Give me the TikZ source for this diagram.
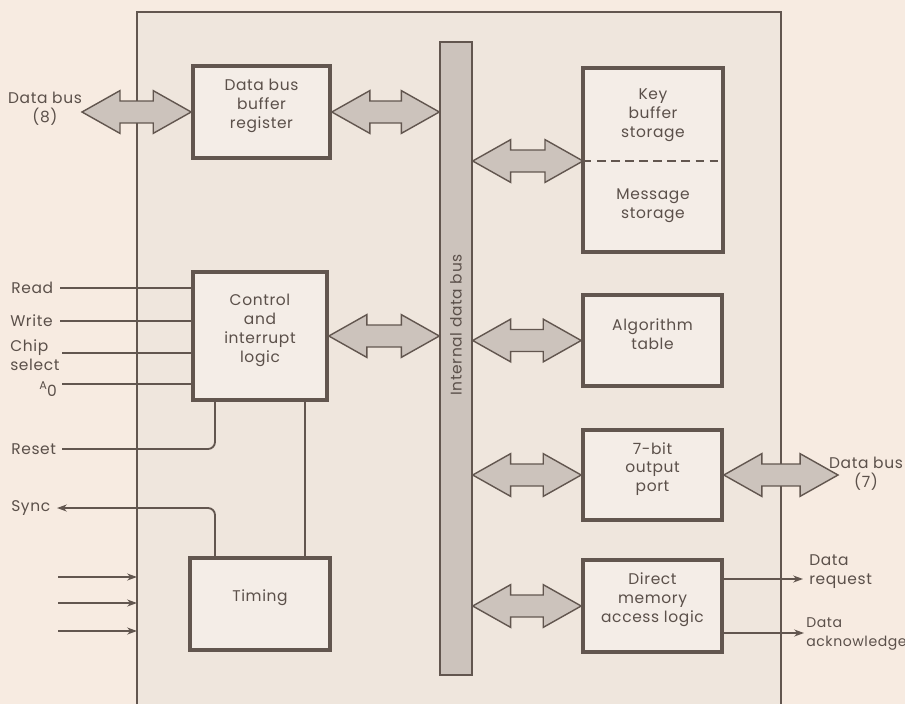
\documentclass[tikz,border=0pt]{standalone}
\usepackage{fontspec}
\setmainfont{Poppins}[LetterSpace=4]
\usetikzlibrary{arrows.meta,positioning,fit,calc}

\definecolor{paper}{HTML}{F7EBE1}
\definecolor{chipfill}{HTML}{EFE6DD}
\definecolor{ink}{HTML}{5B504A}
\definecolor{linecol}{HTML}{62564F}
\definecolor{busfill}{HTML}{CCC3BC}

\tikzset{
  blk/.style={draw=linecol,line width=2.6pt,fill=chipfill!70!white,inner sep=0pt,align=center},
  busbar/.style={draw=linecol,line width=1pt,fill=busfill,inner sep=0pt},
  lbl/.style={inner sep=0pt,align=left},
  sig/.style={draw=linecol,line width=1.3pt},
  sigarr/.style={sig,-{Stealth[length=7pt,width=5pt]}},
  busarrow/.style={draw=linecol,fill=busfill,line width=1pt,line join=miter,
    to path={let \p1=(\tikztostart), \p2=(\tikztotarget) in
      (\x1,\y1) -- (\x1+27pt,\y1+15.2pt) -- (\x1+27pt,\y1+7.8pt)
      -- (\x2-27pt,\y1+7.8pt) -- (\x2-27pt,\y1+15.2pt) -- (\x2,\y1)
      -- (\x2-27pt,\y1-15.2pt) -- (\x2-27pt,\y1-7.8pt)
      -- (\x1+27pt,\y1-7.8pt) -- (\x1+27pt,\y1-15.2pt) -- cycle}}
}

\begin{document}
\begin{tikzpicture}[x=0.025cm,y=-0.025cm,every node/.style={font=\fontsize{11}{13.5}\selectfont,text=ink}]
\fill[paper] (0,0) rectangle (905,704);
\useasboundingbox (0,0) rectangle (905,704);
% chip outline
\fill[chipfill] (137,12) rectangle (781,704);
\draw[linecol,line width=1.2pt] (137,704) |- (781,12) -- (781,704);
\coordinate (chipL) at (137,0);

% blocks
\node[busbar,fit={(440,42) (472,675)}] (bus) {};
\node[rotate=90] (buslbl) at (456,325) {Internal data bus};
\node[blk,fit={(193,66) (330,158)}] (reg) {Data bus\\buffer\\register};
\node[blk,fit={(583,68) (723,252)}] (kbs) {};
\node (kbstxt) at (653,115) [align=center] {Key\\buffer\\storage};
\node (msgtxt) at (653,206) [align=center] {Message\\storage};
\coordinate (kbsplit) at (583,161);
\draw[linecol,line width=1.3pt,dash pattern=on 6pt off 4pt] (kbsplit) -- (kbsplit -| kbs.east);
\node[blk,fit={(193,272) (327,400)}] (ctl) {Control\\and\\interrupt\\logic};
\node[blk,fit={(583,295) (722,386)}] (alg) {Algorithm\\table};
\node[blk,fit={(583,430) (722,520)}] (out) {7-bit\\output\\port};
\node[blk,fit={(190,558) (330,650)}] (tim) {Timing};
\node[blk,fit={(583,560) (722,652)}] (dma) {Direct\\memory\\access logic};

% fat bus arrows
\coordinate (dbin) at (82,112);
\coordinate (dbout) at (838,475);
\draw[busarrow] (dbin) to (reg.west);
\draw[busarrow] (reg.east) to (bus.west |- reg.east);
\draw[busarrow] (bus.east |- kbsplit) to (kbsplit);
\draw[busarrow] (ctl.east) to (bus.west |- ctl.east);
\draw[busarrow] (bus.east |- alg.west) to (alg.west);
\draw[busarrow] (bus.east |- out.west) to (out.west);
\draw[busarrow] (out.east) to (dbout);
\draw[busarrow] (bus.east |- dma.west) to (dma.west);

% external labels
\node[align=center] (db8) at (45,109) {Data bus\\(8)};
\node[align=center] (db7) at (866,474) {Data bus\\(7)};
\node[lbl,anchor=west] (rd) at (11,288) {Read};
\node[lbl,anchor=west] (wr) at (10,321) {Write};
\node[lbl,anchor=west] (cs) at (10,355) {Chip\\select};
\node[lbl,anchor=east] (a0) at (57,389) {\raisebox{3pt}{\fontsize{8}{8}\selectfont A}\raisebox{-2pt}{0}};
\node[lbl,anchor=west] (rst) at (11,449) {Reset};
\node[lbl,anchor=west] (snc) at (11,508) {Sync};
\node[lbl,anchor=west] (dreqlbl) at (809,572) {Data\\request};
\node[lbl,anchor=west,font=\fontsize{10}{13.5}\selectfont] (dacklbl) at (806,634) {Data\\acknowledge};

% control inputs
\coordinate (rdin) at (60,288);
\coordinate (wrin) at (60,321);
\coordinate (csin) at (62,353);
\coordinate (a0in) at (62,384);
\coordinate (rstin) at (62,449);
\draw[sig] (rdin) -- (rdin -| ctl.west);
\draw[sig] (wrin) -- (wrin -| ctl.west);
\draw[sig] (csin) -- (csin -| ctl.west);
\draw[sig] (a0in) -- (a0in -| ctl.west);
\coordinate (colA) at (215,0);
\coordinate (colB) at (305,0);
\draw[sig,rounded corners=5pt] (rstin) -| (colA |- ctl.south);
\draw[sig] (colB |- ctl.south) -- (colB |- tim.north);
\coordinate (syncend) at (57,508);
\draw[sigarr,rounded corners=5pt] (colA |- tim.north) |- (syncend);

% timing inputs
\coordinate (tin1) at (58,577);
\coordinate (tin2) at (58,603);
\coordinate (tin3) at (58,631);
\draw[sigarr] (tin1) -- (tin1 -| chipL);
\draw[sigarr] (tin2) -- (tin2 -| chipL);
\draw[sigarr] (tin3) -- (tin3 -| chipL);

% dma outputs
\coordinate (dreq) at (803,579);
\coordinate (dack) at (804,633);
\draw[sigarr] (dreq -| dma.east) -- (dreq);
\draw[sigarr] (dack -| dma.east) -- (dack);
\end{tikzpicture}
\end{document}
